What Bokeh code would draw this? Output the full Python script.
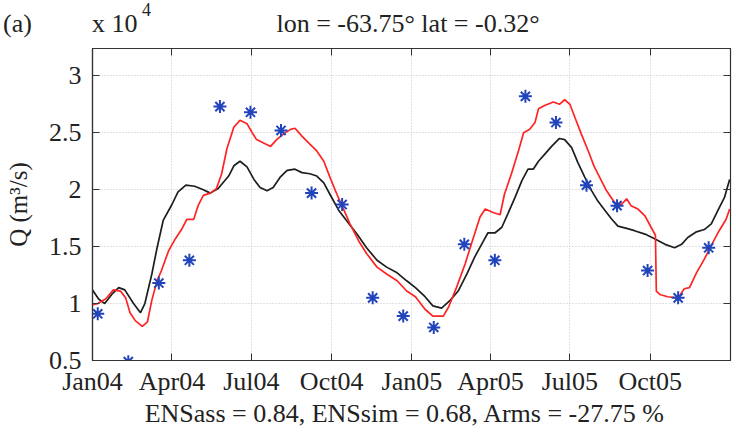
import pandas as pd
from bokeh.plotting import figure
from bokeh.layouts import column
from bokeh.models import (Range1d, FixedTicker, DatetimeTickFormatter, NumeralTickFormatter,
                          LinearAxis, DatetimeAxis, Div)
from bokeh.embed import file_html
from bokeh.resources import INLINE

# ---------------- data (Q in units of 1e4 m3/s) ----------------
START = "2004-01-01"
END = "2006-01-01"

obs_dates = ["2004-01-07", "2004-02-11", "2004-03-17", "2004-04-21", "2004-05-26",
             "2004-06-30", "2004-08-04", "2004-09-08", "2004-10-13", "2004-11-17",
             "2004-12-22", "2005-01-26", "2005-03-02", "2005-04-06", "2005-05-11",
             "2005-06-15", "2005-07-20", "2005-08-24", "2005-09-28", "2005-11-02",
             "2005-12-07"]
obs_q = [0.91, 0.49, 1.18, 1.38, 2.73, 2.68, 2.52, 1.97, 1.87, 1.05,
         0.89, 0.79, 1.52, 1.38, 2.82, 2.59, 2.04, 1.86, 1.29, 1.05, 1.49]

# days since 2004-01-01
sim_day = [0, 7, 14, 22, 30, 37, 47, 55, 60, 68, 74, 81, 91, 98, 107, 117, 127, 135, 144, 156,
           162, 169, 177, 185, 192, 200, 207, 215, 223, 232, 240, 249, 257, 265, 272, 282, 291,
           303, 314, 326, 337, 349, 360, 370, 381, 390, 400, 410, 419, 429, 438, 448, 453, 461,
           469, 476, 484, 492, 499, 505, 511, 518, 526, 535, 541, 549, 556, 564, 572, 579, 587,
           595, 602, 612, 621, 633, 644, 656, 667, 675, 682, 692, 701, 709, 718, 724, 730]
sim_q = [1.12, 1.04, 1.00, 1.08, 1.14, 1.12, 1.00, 0.92, 1.00, 1.26, 1.49, 1.73, 1.87, 1.98,
         2.04, 2.03, 2.00, 1.97, 2.01, 2.12, 2.21, 2.25, 2.20, 2.09, 2.02, 1.99, 2.02, 2.11,
         2.17, 2.18, 2.15, 2.14, 2.12, 2.06, 1.96, 1.82, 1.73, 1.61, 1.49, 1.38, 1.32, 1.27,
         1.20, 1.14, 1.06, 0.98, 0.96, 1.03, 1.11, 1.26, 1.41, 1.55, 1.62, 1.62, 1.67, 1.79,
         1.93, 2.08, 2.18, 2.18, 2.25, 2.31, 2.38, 2.45, 2.44, 2.37, 2.24, 2.11, 1.99, 1.90,
         1.82, 1.74, 1.68, 1.66, 1.64, 1.61, 1.57, 1.52, 1.49, 1.52, 1.58, 1.63, 1.65, 1.70,
         1.84, 1.93, 2.09]

ass_day = [0, 6, 15, 24, 32, 38, 43, 49, 57, 63, 68, 74, 79, 87, 95, 102, 108, 116, 121, 127,
           135, 142, 148, 154, 162, 169, 177, 183, 188, 196, 204, 211, 219, 227, 232, 240, 249,
           257, 265, 272, 280, 287, 295, 305, 314, 326, 337, 349, 360, 370, 381, 390, 402, 408,
           417, 427, 436, 444, 450, 459, 467, 472, 480, 488, 494, 501, 507, 511, 518, 528, 535,
           541, 547, 553, 560, 568, 575, 581, 589, 598, 606, 612, 617, 625, 633, 640, 645, 646,
           650, 659, 671, 678, 684, 692, 701, 711, 718, 726, 730]
ass_q = [0.99, 1.00, 1.04, 1.12, 1.11, 1.05, 0.92, 0.85, 0.80, 0.84, 1.03, 1.20, 1.29, 1.46,
         1.57, 1.65, 1.74, 1.74, 1.86, 1.95, 1.97, 2.01, 2.14, 2.36, 2.55, 2.61, 2.58, 2.50,
         2.44, 2.41, 2.38, 2.44, 2.49, 2.53, 2.54, 2.47, 2.40, 2.34, 2.25, 2.11, 1.96, 1.84,
         1.70, 1.55, 1.44, 1.32, 1.26, 1.20, 1.11, 1.06, 0.95, 0.89, 0.89, 0.97, 1.14, 1.35,
         1.57, 1.76, 1.83, 1.80, 1.78, 1.96, 2.14, 2.34, 2.50, 2.53, 2.59, 2.71, 2.74, 2.77,
         2.75, 2.79, 2.75, 2.63, 2.49, 2.34, 2.20, 2.11, 1.99, 1.89, 1.87, 1.92, 1.86, 1.83,
         1.77, 1.67, 1.60, 1.11, 1.08, 1.06, 1.05, 1.13, 1.14, 1.27, 1.39, 1.54, 1.64, 1.74,
         1.83]

tick_dates = ["2004-01-01", "2004-04-01", "2004-07-01", "2004-10-01",
              "2005-01-01", "2005-04-01", "2005-07-01", "2005-10-01"]
y_ticks = [0.5, 1, 1.5, 2, 2.5, 3]

panel_text = "(a)"
scale_text = "x 10"
scale_exp = "4"
title_text = "lon = -63.75\u00b0 lat = -0.32\u00b0"
stats_text = "ENSass = 0.84,  ENSsim = 0.68,  Arms = -27.75 %"
y_label = "Q (m\u00b3/s)"

# ---------------- conversions ----------------
t0 = pd.Timestamp(START)
sim_t = t0 + pd.to_timedelta(sim_day, unit="D")
ass_t = t0 + pd.to_timedelta(ass_day, unit="D")
obs_t = pd.to_datetime(obs_dates)
x_ticks_ms = [int((pd.Timestamp(d) - pd.Timestamp("1970-01-01")) // pd.Timedelta(milliseconds=1))
              for d in tick_dates]

FONT = "Liberation Serif"
AX = "#333333"
TXT = "#222222"
W = 736
HEAD_H = 47
MAIN_H = 432 - HEAD_H

# ---------------- header (texts above the axes box) ----------------
span = ("position:absolute;white-space:nowrap;line-height:1;"
        "font-family:'Liberation Serif';color:#222222;")
head_html = (
    f'<div style="position:relative;width:{W}px;height:{HEAD_H}px;background:white;">'
    f'<span style="{span}left:3px;top:11px;font-size:26px;">{panel_text}</span>'
    f'<span style="{span}left:92px;top:11px;font-size:26px;">{scale_text}</span>'
    f'<span style="{span}left:142px;top:1px;font-size:18px;">{scale_exp}</span>'
    f'<span style="{span}left:108px;width:600px;text-align:center;top:11px;'
    f'font-size:26px;">{title_text}</span>'
    '</div>'
)
head = Div(text=head_html, width=W, height=HEAD_H, margin=0)

# ---------------- main plot ----------------
p = figure(width=W, height=MAIN_H, x_axis_type="datetime", output_backend="svg",
           toolbar_location=None,
           x_range=Range1d(pd.Timestamp(START), pd.Timestamp(END)),
           y_range=Range1d(0.5, 3.24),
           min_border_left=92, min_border_right=6, min_border_top=1, min_border_bottom=72,
           margin=0)
p.title.visible = False
p.background_fill_color = "white"
p.border_fill_color = "white"
p.outline_line_color = AX
p.outline_line_width = 1.2

xt = FixedTicker(ticks=x_ticks_ms)
yt = FixedTicker(ticks=y_ticks)
fmt = DatetimeTickFormatter(days="%b%y", months="%b%y", years="%b%y")

xa = p.xaxis[0]
xa.ticker = xt
xa.formatter = fmt
xa.axis_label = stats_text
xa.axis_label_standoff = 0
ya = p.yaxis[0]
ya.ticker = yt
ya.formatter = NumeralTickFormatter(format="0.[0]")
ya.axis_label = y_label
ya.axis_label_standoff = 14

for ax in (xa, ya):
    ax.major_label_text_font = FONT
    ax.major_label_text_font_size = "26px"
    ax.major_label_text_color = TXT
    ax.axis_label_text_font = FONT
    ax.axis_label_text_font_size = "26px"
    ax.axis_label_text_font_style = "normal"
    ax.axis_label_text_color = TXT
    ax.major_tick_in = 7
    ax.major_tick_out = 0
    ax.minor_tick_line_color = None
    ax.axis_line_color = AX
    ax.major_tick_line_color = AX
    ax.axis_line_width = 1.2
xa.major_label_standoff = 6
ya.major_label_standoff = 11
ya.axis_label_text_font_size = "25px"

top = DatetimeAxis(ticker=xt, formatter=fmt, major_label_text_font_size="0px",
                   major_label_text_color=None,
                   major_tick_in=7, major_tick_out=0, minor_tick_line_color=None,
                   axis_line_color=AX, major_tick_line_color=AX, major_label_standoff=0)
right = LinearAxis(ticker=yt, major_label_text_font_size="0px", major_label_text_color=None,
                   major_tick_in=7, major_tick_out=0, minor_tick_line_color=None,
                   axis_line_color=AX, major_tick_line_color=AX, major_label_standoff=0)
p.add_layout(top, "above")
p.add_layout(right, "right")

for g in (p.xgrid[0], p.ygrid[0]):
    g.grid_line_color = "#c4c4c4"
    g.grid_line_dash = "1 2"
    g.grid_line_width = 1
p.xgrid[0].ticker = xt
p.ygrid[0].ticker = yt

p.line(sim_t, sim_q, line_color="#1e1e1e", line_width=1.7)
p.line(ass_t, ass_q, line_color="#ff2424", line_width=1.7)
p.scatter(obs_t, obs_q, marker="asterisk", size=13, line_color="#2244bb", line_width=2)

layout = column(head, p, spacing=0, margin=0)
open("out.html", "w").write(file_html(layout, INLINE))
